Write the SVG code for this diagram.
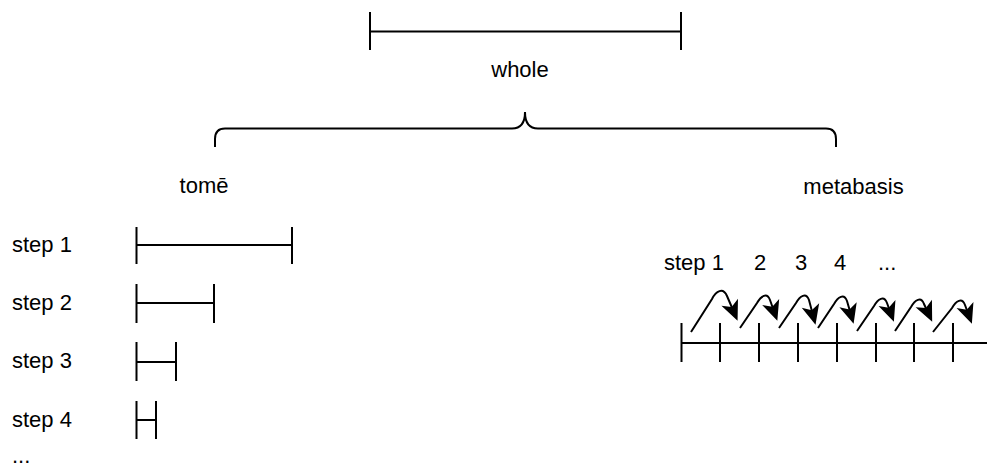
<svg xmlns="http://www.w3.org/2000/svg" width="987" height="468" viewBox="0 0 987 468">
  <style>
    .ln { fill: none; stroke: #000; stroke-width: 2; }
    .lbl { font-family: "Liberation Sans", Arial, sans-serif; font-size: 22px; fill: #000; }
    .mid { text-anchor: middle; }
    .hop { fill: none; stroke: #000; stroke-width: 2; marker-end: url(#head); }
  </style>
  <defs>
    <marker id="head" viewBox="-18 -10 23 20" markerWidth="23" markerHeight="20" refX="0" refY="0" orient="auto" markerUnits="userSpaceOnUse">
      <path d="M4,0 L-16,-9 L-11,0 L-16,9 Z" fill="#000"/>
    </marker>
  </defs>
  <rect width="987" height="468" fill="#fff"/>

  <!-- the whole interval -->
  <g id="whole">
    <path class="ln" d="M370,31.5 H681 M370,12 V50 M681,12 V50"/>
    <text class="lbl mid" x="520" y="77">whole</text>
  </g>

  <!-- brace splitting the whole into two readings -->
  <g id="brace">
    <path class="ln" d="M215,147 V139 Q215,128.5 225,128.5 H512 Q525,128.5 525,112 Q525,128.5 538,128.5 H826 Q836,128.5 836,139 V147"/>
  </g>

  <!-- tomē: halving steps -->
  <g id="tome">
    <text class="lbl mid" x="204" y="193">tomē</text>
  </g>
  <g id="tome-step1">
    <text class="lbl" x="12" y="252">step 1</text>
    <path class="ln" d="M136.5,227 V264 M292,227 V264 M136.5,245 H292"/>
  </g>
  <g id="tome-step2">
    <text class="lbl" x="12" y="310">step 2</text>
    <path class="ln" d="M136.5,284 V323 M214,284 V323 M136.5,303 H214"/>
  </g>
  <g id="tome-step3">
    <text class="lbl" x="12" y="368">step 3</text>
    <path class="ln" d="M136.5,342 V381 M176,342 V381 M136.5,362 H176"/>
  </g>
  <g id="tome-step4">
    <text class="lbl" x="12" y="427">step 4</text>
    <path class="ln" d="M136.5,401 V439 M156,401 V439 M136.5,420 H156"/>
  </g>
  <g id="tome-more">
    <text class="lbl" x="12" y="463">...</text>
  </g>

  <!-- metabasis: equal hops along a line -->
  <g id="metabasis">
    <text class="lbl mid" x="853.5" y="194">metabasis</text>
    <text class="lbl" y="270"><tspan x="664">step 1</tspan><tspan x="754">2</tspan><tspan x="795">3</tspan><tspan x="834">4</tspan><tspan x="878">...</tspan></text>
  </g>
  <g id="axis">
    <path class="ln" d="M681.5,343 H987 M681.5,323 V362 M720,323 V362 M759,323 V362 M798,323 V362 M837,323 V362 M876,323 V362 M914,323 V362 M953,323 V362"/>
  </g>

  <g id="connectors">
    <path class="hop" d="M691,332 L712,299 C716,291 723,287 727,296 L736,317"/>
    <path class="hop" transform="translate(740,328)" d="M0,0 L17,-25 C21,-32 27,-36 30,-28 L36,-11"/>
    <path class="hop" transform="translate(779,328)" d="M0,0 L17,-25 C21,-32 27,-36 30,-28 L35.5,-7"/>
    <path class="hop" transform="translate(818,328)" d="M0,0 L16,-24 C20,-31 26,-35 29,-27 L34.5,-8"/>
    <path class="hop" transform="translate(857,331)" d="M0,0 L17,-25 C21,-32 27,-36 30,-28 L35.5,-13"/>
    <path class="hop" transform="translate(895,331)" d="M0,0 L16,-24 C20,-31 26,-35 29,-27 L35.5,-13"/>
    <path class="hop" transform="translate(933,332)" d="M0,0 L19,-24 C23,-31 29,-35 32,-27 L37.5,-12"/>
  </g>
</svg>
